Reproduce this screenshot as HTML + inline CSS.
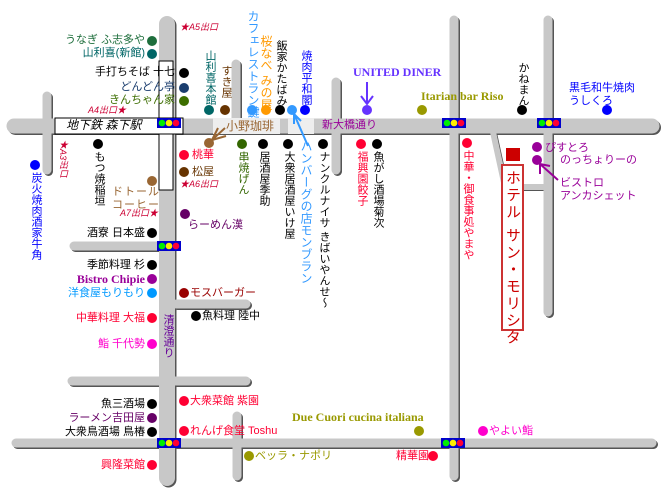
<!DOCTYPE html>
<html><head><meta charset="utf-8"><style>
body{margin:0;background:#fff;}
#m{position:relative;width:664px;height:494px;overflow:hidden;font-family:"Liberation Sans","Noto Sans CJK JP",sans-serif;font-size:11px;}
.t{position:absolute;white-space:nowrap;line-height:13px;}
.v{position:absolute;writing-mode:vertical-rl;white-space:nowrap;line-height:13px;font-size:11px;}
.s{font-family:"Liberation Serif","Noto Serif CJK SC",serif;font-weight:bold;font-size:12px;}
.ex{font-style:italic;font-size:9px;color:#cc0033;}
svg{position:absolute;left:0;top:0;}
</style></head><body><div id="m">
<svg width="664" height="494">
<defs><g id="tl"><rect x="0" y="0" width="24" height="10" fill="#0000cc"/><circle cx="5" cy="5" r="3.3" fill="#00ee00"/><circle cx="12" cy="5" r="3.3" fill="#ffee00"/><circle cx="19" cy="5" r="3.3" fill="#ff0033"/></g></defs>
<g stroke-linecap="round" fill="none">
<g stroke="#555" transform="translate(1.5,1.5)">
<line x1="14" y1="126" x2="652" y2="126" stroke-width="15"/><line x1="167" y1="24" x2="167" y2="478" stroke-width="16"/>
<g stroke-width="9">
<line x1="47" y1="96" x2="47" y2="170"/><line x1="236" y1="64" x2="236" y2="120"/>
<line x1="336" y1="82" x2="336" y2="170"/><line x1="454" y1="20" x2="454" y2="476"/>
<line x1="548" y1="20" x2="548" y2="312"/><line x1="74" y1="246" x2="167" y2="246"/>
<line x1="176" y1="304" x2="246" y2="304"/><line x1="72" y1="381" x2="246" y2="381"/>
<line x1="16" y1="443" x2="652" y2="443"/><line x1="237" y1="416" x2="237" y2="476"/>
</g></g>
<g stroke="#555" stroke-width="6" transform="translate(1,1)"><polyline points="493,132 505,187 548,187"/></g>
<g stroke="#c8c8c8">
<line x1="14" y1="126" x2="652" y2="126" stroke-width="15"/><line x1="167" y1="24" x2="167" y2="478" stroke-width="16"/>
<g stroke-width="9">
<line x1="47" y1="96" x2="47" y2="170"/><line x1="236" y1="64" x2="236" y2="120"/>
<line x1="336" y1="82" x2="336" y2="170"/><line x1="454" y1="20" x2="454" y2="476"/>
<line x1="548" y1="20" x2="548" y2="312"/><line x1="74" y1="246" x2="167" y2="246"/>
<line x1="176" y1="304" x2="246" y2="304"/><line x1="72" y1="381" x2="246" y2="381"/>
<line x1="16" y1="443" x2="652" y2="443"/><line x1="237" y1="416" x2="237" y2="476"/>
</g></g>
<g stroke="#c8c8c8" stroke-width="6"><polyline points="493,132 505,187 548,187"/></g>
</g>
<rect x="159" y="61" width="14" height="129" fill="#fff" stroke="#000"/>
<rect x="55" y="118" width="128" height="16" fill="#fff" stroke="#000"/>
<rect x="159" y="119" width="14" height="14" fill="#fff"/>
<rect x="213" y="118" width="67" height="16" fill="#eee"/>
<rect x="288" y="118" width="26" height="16" fill="#eee"/>
<use href="#tl" x="157" y="118"/><use href="#tl" x="157" y="241"/><use href="#tl" x="157" y="438"/>
<use href="#tl" x="442" y="118"/><use href="#tl" x="537" y="118"/><use href="#tl" x="441" y="438"/>
<g>
<circle cx="152" cy="41" r="5" fill="#1e6e3c"/><circle cx="152" cy="54" r="5" fill="#006666"/>
<circle cx="184" cy="73" r="5" fill="#000"/><circle cx="184" cy="88" r="5" fill="#1a3d6e"/><circle cx="184" cy="101" r="5" fill="#3d6e00"/>
<circle cx="98" cy="144" r="5" fill="#000"/><circle cx="35" cy="165" r="5" fill="#0000ff"/><circle cx="152" cy="181" r="5" fill="#996633"/>
<circle cx="184" cy="155" r="5" fill="#ff0033"/><circle cx="184" cy="172" r="5" fill="#663300"/><circle cx="185" cy="214" r="5" fill="#660066"/>
<circle cx="152" cy="233" r="5" fill="#000"/><circle cx="152" cy="265" r="5" fill="#000"/><circle cx="152" cy="279" r="5" fill="#990099"/>
<circle cx="152" cy="293" r="5" fill="#0099ff"/><circle cx="184" cy="293" r="5" fill="#990000"/><circle cx="196" cy="316" r="5" fill="#000"/>
<circle cx="152" cy="318" r="5" fill="#ff0033"/><circle cx="152" cy="344" r="5" fill="#ff00cc"/>
<circle cx="152" cy="404" r="5" fill="#000"/><circle cx="184" cy="401" r="5" fill="#ff0033"/><circle cx="152" cy="418" r="5" fill="#660066"/>
<circle cx="152" cy="432" r="5" fill="#000"/><circle cx="184" cy="431" r="5" fill="#ff0033"/><circle cx="152" cy="465" r="5" fill="#ff0033"/>
<circle cx="249" cy="456" r="5" fill="#999900"/><circle cx="419" cy="431" r="5" fill="#999900"/><circle cx="433" cy="456" r="5" fill="#ff0033"/>
<circle cx="483" cy="431" r="5" fill="#ff00cc"/>
<circle cx="209" cy="110" r="5" fill="#006666"/><circle cx="225" cy="110" r="5" fill="#663300"/><circle cx="209" cy="143" r="5" fill="#996633"/>
<circle cx="242" cy="144" r="5" fill="#336600"/><circle cx="263" cy="144" r="5" fill="#000"/><circle cx="288" cy="144" r="5" fill="#000"/>
<circle cx="252" cy="110" r="5" fill="#3399ff"/><circle cx="266" cy="110" r="5" fill="#ff9900"/><circle cx="280" cy="110" r="5" fill="#000"/>
<circle cx="292" cy="110" r="5" fill="#3399ff"/><circle cx="305" cy="110" r="5" fill="#0000ff"/><circle cx="323" cy="144" r="5" fill="#000"/>
<circle cx="367" cy="110" r="5" fill="#6633ff"/><circle cx="422" cy="110" r="5" fill="#999900"/><circle cx="522" cy="110" r="5" fill="#000"/>
<circle cx="607" cy="110" r="5" fill="#0000ff"/><circle cx="361" cy="144" r="5" fill="#ff0033"/><circle cx="377" cy="144" r="5" fill="#000"/>
<circle cx="467" cy="143" r="5" fill="#ff0033"/><circle cx="537" cy="147" r="5" fill="#990099"/><circle cx="537" cy="160" r="5" fill="#990099"/>
</g>
<rect x="506" y="148" width="14" height="13" fill="#cc0000"/>
<rect x="502" y="165" width="21" height="165" fill="#fff" stroke="#cc3333" stroke-width="2"/>
<g fill="none" stroke-width="2">
<path d="M212,140 L225,128 M212,140 L218,128 M212,140 L226,136" stroke="#996633"/>
<path d="M294,114 L308,146 M294,114 L294,124 M294,114 L301,121" stroke="#3399ff"/>
<path d="M367,82 L367,104 M361,96 L367,104 L373,96" stroke="#6633ff"/>
<path d="M540,164 L558,180 M540,164 L540,174 M540,164 L550,166" stroke="#990099"/>
</g>
</svg>
<div class="t ex" style="left:180px;top:21px">★A5出口</div>
<div class="t" style="right:519px;top:34px;color:#1e6e3c">うなぎ ふ志多や</div>
<div class="t" style="right:519px;top:47px;color:#006666">山利喜(新館)</div>
<div class="t" style="right:489px;top:66px;color:#000">手打ちそば 十七</div>
<div class="t" style="right:489px;top:81px;color:#1a3d6e">どんどん亭</div>
<div class="t" style="right:489px;top:94px;color:#3d6e00">きんちゃん家</div>
<div class="t ex" style="left:88px;top:104px">A4出口★</div>
<div class="t" style="left:66px;top:119px;font-style:italic;font-size:12px">地下鉄 森下駅</div>
<div class="v ex" style="left:56px;top:140px">★A3出口</div>
<div class="v" style="left:92px;top:151px">もつ焼稲垣</div>
<div class="v" style="left:29px;top:172px;color:#0000ff">炭火焼肉酒家牛角</div>
<div class="t" style="left:112px;top:186px;color:#996633;letter-spacing:1px">ドトール<br>コーヒー</div>
<div class="t ex" style="left:120px;top:207px">A7出口★</div>
<div class="t" style="left:192px;top:149px;color:#ff0033">桃華</div>
<div class="t" style="left:192px;top:166px;color:#663300">松屋</div>
<div class="t ex" style="left:180px;top:178px">★A6出口</div>
<div class="t" style="left:188px;top:219px;color:#660066">らーめん漢</div>
<div class="t" style="right:519px;top:227px">酒寮 日本盛</div>
<div class="t" style="right:519px;top:259px">季節料理 杉</div>
<div class="t s" style="right:519px;top:273px;color:#990099">Bistro Chipie</div>
<div class="t" style="right:519px;top:287px;color:#0099ff">洋食屋もりもり</div>
<div class="t" style="left:190px;top:287px;color:#990000">モスバーガー</div>
<div class="t" style="left:202px;top:310px">魚料理 陸中</div>
<div class="t" style="right:519px;top:312px;color:#ff0033">中華料理 大福</div>
<div class="v" style="left:161px;top:314px;color:#660099">清澄通り</div>
<div class="t" style="right:519px;top:338px;color:#ff00cc">鮨 千代勢</div>
<div class="t" style="right:519px;top:398px">魚三酒場</div>
<div class="t" style="left:190px;top:395px;color:#ff0033">大衆菜館 紫園</div>
<div class="t" style="right:519px;top:412px;color:#660066">ラーメン吉田屋</div>
<div class="t" style="right:519px;top:426px">大衆鳥酒場 鳥椿</div>
<div class="t" style="left:190px;top:425px;color:#ff0033">れんげ食堂 Toshu</div>
<div class="t" style="right:519px;top:459px;color:#ff0033">興隆菜館</div>
<div class="t" style="left:255px;top:450px;color:#999900">ベッラ・ナポリ</div>
<div class="t s" style="left:292px;top:411px;color:#999900">Due Cuori cucina italiana</div>
<div class="t" style="left:396px;top:450px;color:#ff0033">精華園</div>
<div class="t" style="left:489px;top:425px;color:#ff00cc">やよい鮨</div>
<div class="v" style="left:203px;top:50px;color:#006666">山利喜本館</div>
<div class="v" style="left:219px;top:65px;color:#663300">すき屋</div>
<div class="t" style="left:226px;top:120px;color:#996633;font-size:12px">小野珈琲</div>
<div class="v" style="left:236px;top:151px;color:#336600">串焼げん</div>
<div class="v" style="left:257px;top:151px">居酒屋季助</div>
<div class="v" style="left:282px;top:151px">大衆居酒屋いけ屋</div>
<div class="v" style="left:246px;top:10px;color:#3399ff;font-size:12px">カフェレストラン鍵</div>
<div class="v" style="left:259px;top:35px;color:#ff9900;font-size:12px">桜なべ みの屋</div>
<div class="v" style="left:274px;top:40px">飯家かたばみ</div>
<div class="v" style="left:299px;top:50px;color:#0000ff">焼肉平和閣</div>
<div class="v" style="left:299px;top:140px;color:#3399ff;font-size:12px">ハンバーグの店モンブラン</div>
<div class="t" style="left:322px;top:119px;color:#990099">新大橋通り</div>
<div class="v" style="left:317px;top:151px">ナンクルナイサ きばいやんせ～</div>
<div class="t s" style="left:353px;top:66px;color:#6633ff">UNITED DINER</div>
<div class="t s" style="left:421px;top:90px;color:#999900">Itarian bar Riso</div>
<div class="v" style="left:516px;top:62px">かねまん</div>
<div class="t" style="left:569px;top:82px;color:#0000ff">黒毛和牛焼肉<br>うしくろ</div>
<div class="v" style="left:355px;top:151px;color:#ff0033">福興園餃子</div>
<div class="v" style="left:371px;top:151px">魚がし酒場菊次</div>
<div class="v" style="left:461px;top:150px;color:#ff0033">中華・御食事処やまや</div>
<div class="v" style="left:503px;top:170px;color:#cc0000;font-size:15px;line-height:19px;letter-spacing:2px">ホテル サン・モリシタ</div>
<div class="t" style="left:545px;top:142px;color:#990099">ぴすとろ</div>
<div class="t" style="left:560px;top:154px;color:#990099">のっちょりーの</div>
<div class="t" style="left:560px;top:177px;color:#990099">ビストロ<br>アンカシェット</div>
</div></body></html>
